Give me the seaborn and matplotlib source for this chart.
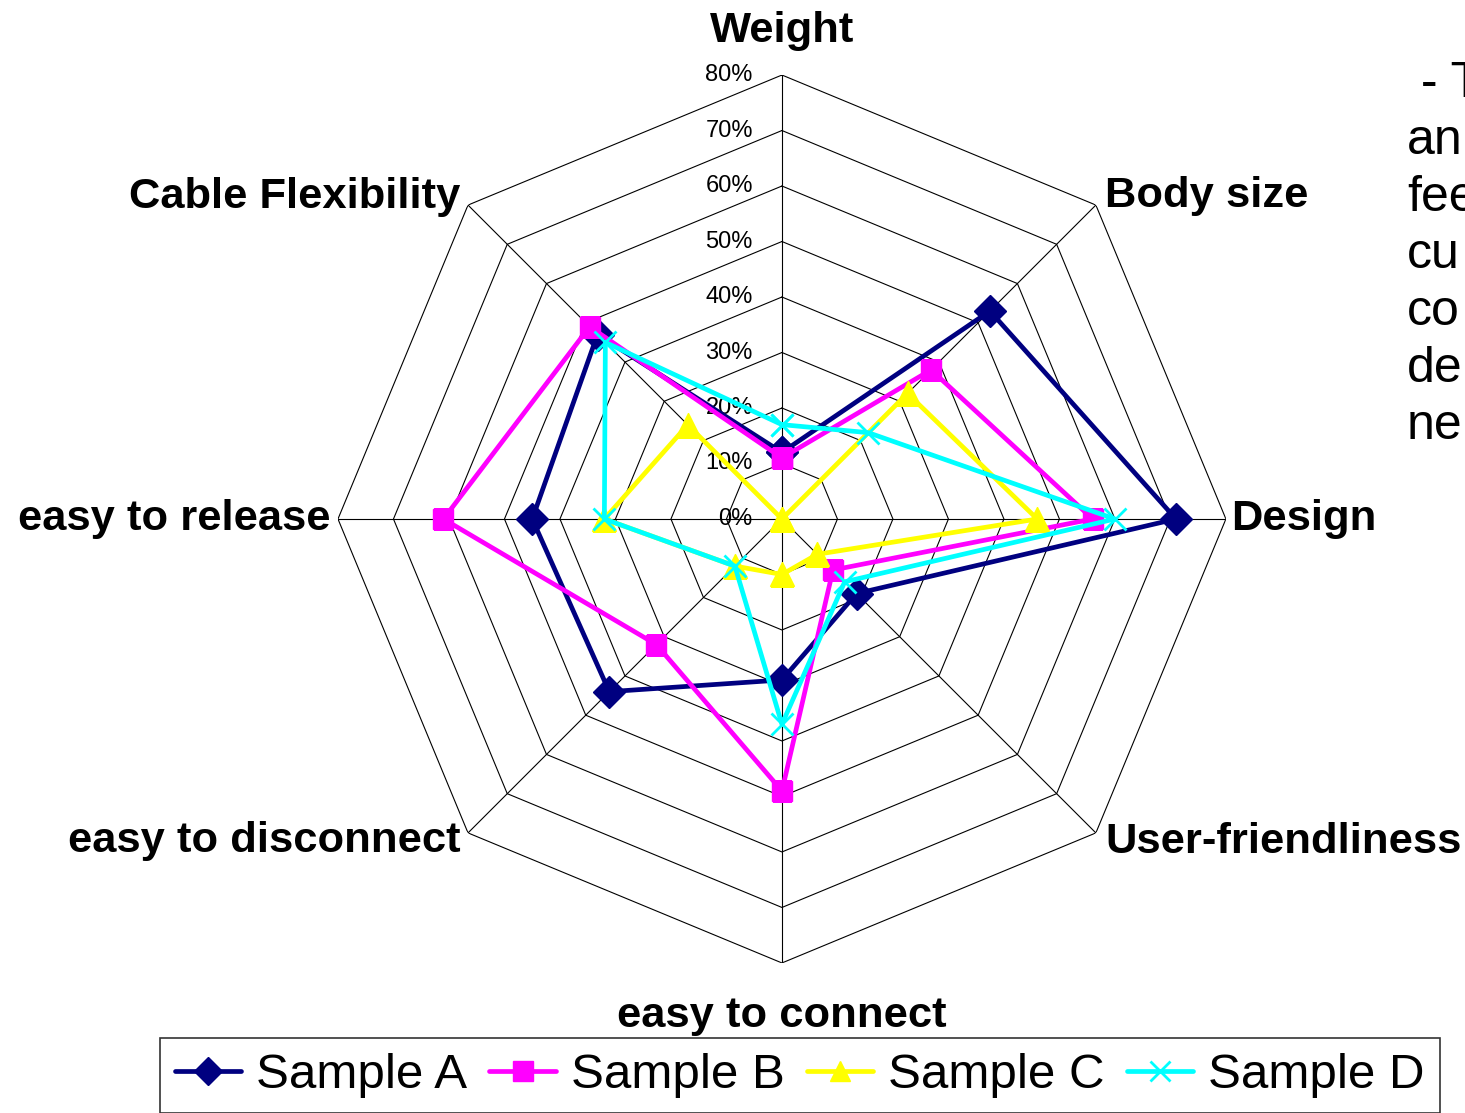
import numpy as np
import matplotlib
matplotlib.use('Agg')
from matplotlib import pyplot as plt
import seaborn as sns

categories = ['Weight', 'Body size', 'Design', 'User-friendliness',
              'easy to connect', 'easy to disconnect', 'easy to release',
              'Cable Flexibility']
sample_a = [12, 53, 71, 19, 29, 44, 45, 47]
sample_b = [11, 38, 56, 13, 49, 32, 61, 49]
sample_c = [0, 32, 46, 9, 10, 12, 32, 24]
sample_d = [17, 22, 60, 16, 37, 12, 32, 45]
levels = [0, 10, 20, 30, 40, 50, 60, 70, 80]
side_text = [' - T', 'an', 'fee', 'cu', 'co', 'de', 'ne']

sns.set_theme(style='white')
plt.rcParams['font.family'] = ['Liberation Sans', 'DejaVu Sans']

fig = plt.figure(figsize=(14.65, 11.13), dpi=100)
ax = fig.add_axes([0.2307, 0.1348, 0.6061, 0.7978], projection='polar')
ax.set_theta_offset(np.pi / 2)
ax.set_theta_direction(-1)
ax.set_ylim(0, 80)
ax.grid(False)
ax.spines['polar'].set_visible(False)
ax.set_xticks([])
ax.set_yticks([])
ax.set_facecolor('none')

n = len(categories)
theta = np.arange(n) * 2 * np.pi / n
theta_closed = np.append(theta, 2 * np.pi)

# octagon grid and spokes
for lv in levels[1:]:
    ax.plot(theta_closed, [lv] * (n + 1), color='black', lw=0.8, zorder=1)
for t in theta:
    ax.plot([t, t], [0, 80], color='black', lw=0.8, zorder=1)

for lv in levels:
    ax.annotate('{}%'.format(lv), xy=(0, lv), xytext=(-21, 0),
                textcoords='offset points', ha='right', va='center',
                fontsize=17, color='black', zorder=1)

series = [('Sample A', sample_a, '#000080', 'D', 16),
          ('Sample B', sample_b, '#FF00FF', 's', 15),
          ('Sample C', sample_c, '#FFFF00', '^', 17),
          ('Sample D', sample_d, '#00FFFF', 'x', 16)]
for name, vals, col, mk, ms in series:
    r = np.append(vals, vals[0])
    sns.lineplot(x=theta_closed, y=r, ax=ax, sort=False, estimator=None,
                 color=col, lw=3.4, marker=mk, markersize=ms,
                 markeredgecolor=col, markerfacecolor=col,
                 markeredgewidth=2 if mk == 'x' else 1, label=name, zorder=3)

# category labels
label_pos = [(86, 'center', 'baseline'), (82.3, 'left', 'center'),
             (81, 'left', 'center'), (82.3, 'left', 'center'),
             (91.5, 'center', 'baseline'), (82, 'right', 'center'),
             (81.3, 'right', 'center'), (82, 'right', 'center')]
for t, cat, (r, ha, va) in zip(theta, categories, label_pos):
    ax.text(t, r, cat, ha=ha, va=va, fontsize=31.3, fontweight='bold',
            color='black', clip_on=False)

leg = ax.legend(loc='upper left', bbox_to_anchor=(160 / 1465, 1 - 1038 / 1113),
                bbox_transform=fig.transFigure, ncol=4, fontsize=35.5,
                frameon=True, fancybox=False, edgecolor='black',
                handlelength=1.35, handletextpad=0.3, columnspacing=0.45,
                borderpad=0.3, borderaxespad=0, numpoints=1,
                labelcolor='black')
leg.get_frame().set_linewidth(1.2)
for h in leg.legend_handles:
    h.set_markersize(14)

for i, s in enumerate(side_text):
    fig.text(1407 / 1465, 1 - (97 + 57 * i) / 1113, s, ha='left',
             va='baseline', fontsize=36, color='black')

fig.savefig('out.png', dpi=100)
